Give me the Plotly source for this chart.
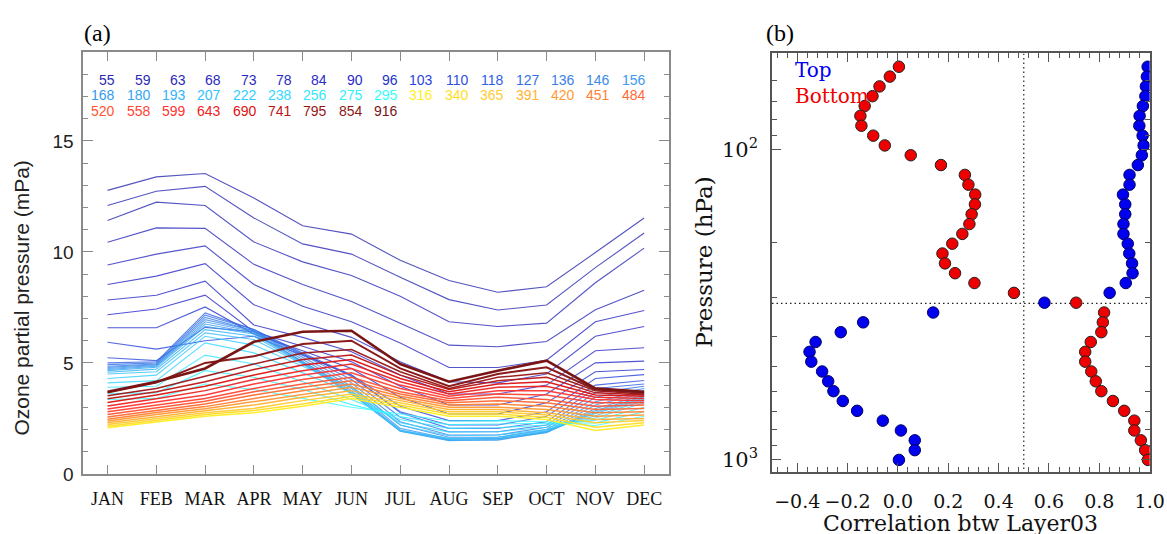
import math
import plotly.graph_objects as go

W, H = 1167, 534          # reference picture size (layout fractions are based on it)
FIG_W, FIG_H = 1184, 546  # canvas size requested from plotly

# ---------------- Panel (a) data ----------------
MONTHS = ["JAN", "FEB", "MAR", "APR", "MAY", "JUN", "JUL", "AUG", "SEP", "OCT", "NOV", "DEC"]

LEVELS_HPA = [55, 59, 63, 68, 73, 78, 84, 90, 96, 103, 110, 118, 127, 136, 146, 156,
              168, 180, 193, 207, 222, 238, 256, 275, 295, 316, 340, 365, 391, 420, 451, 484,
              520, 558, 599, 643, 690, 741, 795, 854, 916]

LEVEL_COLORS = ["#2b2bb0", "#2b2bb4", "#2b2bb8", "#2b2bbc", "#2b2bc0", "#2b2bc4", "#2b2bc8", "#2b2bcc",
                "#2233cc", "#2a44dd", "#2f50e0", "#3060e6", "#3370e8", "#3a7fe8", "#3d8ce8", "#3d99f0",
                "#3399ee", "#33a5f2", "#33b2f7", "#33bffa", "#33ccff", "#33d9ff", "#33e6ff", "#33eeff",
                "#33ffff", "#ffee22", "#ffdd22", "#ffcc33", "#ffb233", "#ff9933", "#ff8033", "#ff6a33",
                "#ff5533", "#ff4433", "#ff3333", "#ee2222", "#dd1111", "#bb1515", "#991515", "#8b1a1a",
                "#7a1515"]

p055 = [12.77, 13.38, 13.53, 12.43, 11.18, 10.80, 9.62, 8.71, 8.18, 8.43, 9.97, 11.53]
p059 = [12.09, 12.73, 12.95, 11.53, 10.36, 9.90, 8.86, 7.85, 7.38, 7.61, 9.29, 10.85]
p063 = [11.41, 12.24, 12.09, 10.45, 9.55, 8.94, 8.00, 6.85, 6.64, 6.79, 8.61, 10.17]
p068 = [10.43, 11.08, 11.06, 9.44, 8.53, 7.77, 6.79, 5.80, 5.73, 5.96, 7.39, 8.27]
p073 = [9.41, 9.90, 10.27, 8.53, 7.55, 6.85, 5.90, 4.79, 4.79, 5.12, 6.85, 7.36]
p078 = [8.53, 8.91, 9.47, 7.62, 6.80, 6.15, 5.05, 4.15, 4.10, 4.50, 6.20, 6.64]
p084 = [7.83, 8.05, 8.68, 6.71, 6.15, 5.50, 4.45, 3.60, 3.60, 4.00, 5.55, 5.68]
p090 = [7.17, 7.43, 8.05, 6.40, 5.75, 5.05, 3.95, 3.10, 3.10, 3.60, 5.00, 5.08]
p096 = [6.58, 6.58, 7.52, 6.30, 5.55, 4.75, 3.45, 2.70, 2.70, 3.20, 4.60, 4.70]
p103 = [5.93, 5.62, 6.00, 6.20, 5.35, 4.45, 3.05, 2.40, 2.40, 2.80, 4.30, 4.47]
p110 = [5.23, 5.10, 6.60, 6.40, 5.40, 4.40, 2.80, 2.20, 2.20, 2.60, 4.00, 4.21]
p118 = [5.00, 5.05, 7.25, 6.50, 5.45, 4.45, 2.75, 2.05, 2.05, 2.35, 3.85, 4.05]
p127 = [4.92, 5.00, 7.15, 6.50, 5.35, 4.25, 2.55, 1.90, 1.90, 2.20, 3.65, 3.95]
p136 = [4.85, 4.95, 7.05, 6.45, 5.25, 4.10, 2.35, 1.75, 1.75, 2.10, 3.45, 3.85]
p146 = [4.80, 4.92, 6.95, 6.45, 5.15, 3.95, 2.20, 1.65, 1.65, 2.00, 3.25, 3.75]
p156 = [4.75, 4.88, 6.85, 6.40, 5.05, 3.85, 2.05, 1.58, 1.58, 1.92, 3.10, 3.65]
p168 = [4.70, 4.85, 6.75, 6.35, 5.05, 3.75, 1.98, 1.52, 1.52, 1.88, 2.95, 3.55]
p180 = [4.65, 4.80, 6.65, 6.30, 5.00, 3.68, 1.92, 1.50, 1.55, 1.86, 2.85, 3.48]
p193 = [4.58, 4.72, 6.50, 6.20, 4.98, 3.62, 1.92, 1.55, 1.60, 1.90, 2.78, 3.42]
p207 = [4.50, 4.60, 6.35, 6.05, 4.95, 3.60, 1.95, 1.60, 1.65, 1.95, 2.72, 3.36]
p222 = [4.30, 4.45, 6.20, 5.80, 4.85, 3.90, 2.20, 1.72, 1.75, 2.00, 2.62, 3.30]
p238 = [4.10, 4.20, 5.90, 5.45, 4.55, 3.65, 2.30, 1.88, 1.90, 2.10, 2.52, 3.20]
p256 = [3.90, 3.95, 5.35, 4.95, 4.15, 3.35, 2.45, 2.05, 2.08, 2.20, 2.42, 3.00]
p275 = [3.62, 3.65, 4.65, 4.35, 3.80, 3.12, 2.58, 2.22, 2.25, 2.28, 2.30, 2.80]
p295 = [3.35, 3.40, 4.05, 3.80, 3.40, 3.00, 2.70, 2.38, 2.40, 2.35, 2.18, 2.60]
p316 = [2.08, 2.33, 2.60, 2.75, 3.05, 3.40, 3.00, 2.60, 2.60, 2.45, 1.95, 2.20]
p340 = [2.15, 2.41, 2.67, 2.85, 3.15, 3.50, 3.10, 2.70, 2.70, 2.55, 2.10, 2.30]
p365 = [2.22, 2.50, 2.75, 2.95, 3.30, 3.60, 3.20, 2.80, 2.80, 2.65, 2.30, 2.40]
p391 = [2.30, 2.58, 2.84, 3.10, 3.45, 3.75, 3.30, 2.90, 2.90, 2.75, 2.45, 2.50]
p420 = [2.38, 2.68, 2.93, 3.25, 3.60, 3.90, 3.40, 3.00, 3.00, 2.90, 2.60, 2.65]
p451 = [2.46, 2.77, 3.03, 3.40, 3.75, 4.05, 3.50, 3.10, 3.15, 3.05, 2.75, 2.80]
p484 = [2.56, 2.87, 3.15, 3.55, 3.90, 4.20, 3.60, 3.20, 3.30, 3.20, 2.90, 2.95]
p520 = [2.68, 2.98, 3.27, 3.70, 4.05, 4.35, 3.70, 3.30, 3.45, 3.35, 3.05, 3.10]
p558 = [2.80, 3.10, 3.40, 3.85, 4.25, 4.55, 3.85, 3.40, 3.60, 3.55, 3.20, 3.20]
p599 = [2.92, 3.22, 3.55, 4.05, 4.45, 4.75, 4.00, 3.50, 3.75, 3.75, 3.35, 3.30]
p643 = [3.06, 3.38, 3.75, 4.25, 4.65, 4.95, 4.15, 3.60, 3.90, 3.95, 3.45, 3.40]
p690 = [3.22, 3.55, 3.95, 4.45, 4.90, 5.15, 4.30, 3.70, 4.05, 4.15, 3.55, 3.50]
p741 = [3.38, 3.70, 4.15, 4.70, 5.15, 5.35, 4.45, 3.80, 4.20, 4.35, 3.65, 3.55]
p795 = [3.52, 3.85, 4.40, 4.95, 5.45, 5.60, 4.60, 3.85, 4.35, 4.55, 3.75, 3.60]
p854 = [3.66, 4.12, 5.00, 5.30, 5.85, 6.00, 4.75, 3.95, 4.50, 4.80, 3.80, 3.65]
p916 = [3.70, 4.15, 4.75, 5.95, 6.40, 6.45, 4.95, 4.15, 4.65, 5.10, 3.85, 3.70]

SERIES = [p055, p059, p063, p068, p073, p078, p084, p090, p096, p103, p110, p118, p127, p136,
          p146, p156, p168, p180, p193, p207, p222, p238, p256, p275, p295, p316, p340, p365,
          p391, p420, p451, p484, p520, p558, p599, p643, p690, p741, p795, p854, p916]

# ---------------- Panel (b) data ----------------
PRESSURE_B = [54.1, 58.2, 62.6, 67.3, 72.4, 77.9, 83.8, 90.2, 97.0, 104.3, 112.2, 120.7, 129.8,
              139.7, 150.2, 161.6, 173.8, 187.0, 201.1, 216.3, 232.7, 250.3, 269.2, 289.6, 311.5,
              335.1, 360.4, 387.7, 417.0, 448.6, 482.5, 519.0, 558.3, 600.5, 646.0, 694.8, 747.4,
              804.0, 864.8, 930.2, 1000.0]
CORR_TOP = [0.992, 0.989, 0.985, 0.983, 0.973, 0.960, 0.959, 0.972, 0.976, 0.969, 0.953, 0.920,
            0.920, 0.894, 0.903, 0.903, 0.896, 0.896, 0.913, 0.919, 0.930, 0.932, 0.905, 0.841,
            0.582, 0.140, -0.138, -0.227, -0.327, -0.351, -0.344, -0.301, -0.277, -0.256, -0.219,
            -0.162, -0.060, 0.012, 0.067, 0.067, 0.004]
CORR_BOTTOM = [0.004, -0.032, -0.073, -0.101, -0.132, -0.149, -0.145, -0.098, -0.052, 0.051,
               0.171, 0.266, 0.280, 0.307, 0.306, 0.293, 0.284, 0.256, 0.216, 0.177, 0.187,
               0.227, 0.304, 0.461, 0.708, 0.819, 0.814, 0.808, 0.766, 0.744, 0.744, 0.768,
               0.786, 0.808, 0.854, 0.899, 0.939, 0.939, 0.965, 0.982, 0.993]
CORR_THRESHOLD = 0.5
DIVIDE_P = 313.0
X_RANGE_B = [-0.5, 1.0]
P_RANGE_B = [49.0, 1093.0]

fig = go.Figure()

for lev, vals, col in zip(LEVELS_HPA, SERIES, LEVEL_COLORS):
    if lev >= 916:
        w, op = 2.6, 1.0
    elif lev >= 854:
        w, op = 2.0, 1.0
    elif lev >= 316:
        w, op = 1.5, 0.95
    else:
        w, op = 1.1, 0.8
    fig.add_trace(go.Scatter(x=MONTHS, y=vals, mode="lines", line=dict(color=col, width=w),
                             opacity=op, xaxis="x", yaxis="y", showlegend=False, hoverinfo="skip"))

# dotted reference lines in (b)
fig.add_trace(go.Scatter(x=[CORR_THRESHOLD, CORR_THRESHOLD], y=P_RANGE_B, mode="lines",
                         line=dict(color="#222", width=1.2, dash="1.5px,3px"),
                         xaxis="x2", yaxis="y2", showlegend=False, hoverinfo="skip"))
fig.add_trace(go.Scatter(x=X_RANGE_B, y=[DIVIDE_P, DIVIDE_P], mode="lines",
                         line=dict(color="#222", width=1.2, dash="1.5px,3px"),
                         xaxis="x2", yaxis="y2", showlegend=False, hoverinfo="skip"))

fig.add_trace(go.Scatter(x=CORR_BOTTOM, y=PRESSURE_B, mode="markers", name="Bottom",
                         marker=dict(color="#ee0000", size=11.5, line=dict(color="#222", width=1)),
                         xaxis="x2", yaxis="y2", showlegend=False))
fig.add_trace(go.Scatter(x=CORR_TOP, y=PRESSURE_B, mode="markers", name="Top",
                         marker=dict(color="#0000ee", size=11.5, line=dict(color="#000066", width=1)),
                         xaxis="x2", yaxis="y2", showlegend=False))

axA_col = "#8a8a8a"
axB_col = "#555555"

fig.update_layout(
    width=FIG_W, height=FIG_H, margin=dict(l=0, r=0, t=0, b=0), autosize=False,
    paper_bgcolor="white", plot_bgcolor="white",
    xaxis=dict(domain=[83 / W, 667.4 / W], anchor="y", type="category", range=[-0.5, 11.5],
               ticks="inside", ticklen=9, tickcolor=axA_col, showline=True, linecolor=axA_col,
               linewidth=1.5, mirror="ticks", showgrid=False, zeroline=False, tickangle=0,
               tickfont=dict(family="Liberation Serif", size=18, color="#111"),
               ticklabelstandoff=8),
    yaxis=dict(domain=[1 - 473 / H, 1 - 52 / H], anchor="x", range=[0, 19],
               tickvals=[0, 5, 10, 15], ticks="inside", ticklen=10, tickcolor=axA_col,
               minor=dict(dtick=1, ticks="inside", ticklen=5, tickcolor=axA_col),
               showline=True, linecolor=axA_col, linewidth=1.5, mirror="ticks",
               showgrid=False, zeroline=False,
               tickfont=dict(family="Liberation Sans", size=19, color="#222"),
               ticklabelstandoff=4),
    xaxis2=dict(domain=[770.7 / W, 1147.7 / W], anchor="y2", range=X_RANGE_B,
                tick0=-0.4, dtick=0.2, tickformat=".1f", ticks="inside", ticklen=9,
                tickcolor=axB_col, tickangle=0,
                minor=dict(tick0=-0.4, dtick=0.04, ticks="inside", ticklen=5, tickcolor=axB_col),
                showline=True, linecolor=axB_col, linewidth=1.5, mirror="ticks",
                showgrid=False, zeroline=False,
                tickfont=dict(family="DejaVu Serif", size=19, color="#111"),
                ticklabelstandoff=12),
    yaxis2=dict(domain=[1 - 471 / H, 1 - 53.3 / H], anchor="x2", type="log",
                range=[math.log10(P_RANGE_B[1]), math.log10(P_RANGE_B[0])],
                tickvals=[100, 1000], ticktext=["10<sup>2</sup>", "10<sup>3</sup>"],
                ticks="inside", ticklen=9, tickcolor=axB_col,
                minor=dict(tickvals=[60, 70, 80, 90, 200, 300, 400, 500, 600, 700, 800, 900],
                           ticks="inside", ticklen=5, tickcolor=axB_col),
                showline=True, linecolor=axB_col, linewidth=1.5, mirror="ticks",
                showgrid=False, zeroline=False,
                tickfont=dict(family="DejaVu Serif", size=21, color="#111"),
                ticklabelstandoff=8),
)

ann = []
# level labels (right-aligned columns, 16 per row)
for i, (lev, col) in enumerate(zip(LEVELS_HPA, LEVEL_COLORS)):
    row, c = divmod(i, 16)
    ann.append(dict(x=(116 + 35.3 * c) / W, y=1 - (80 + 15.2 * row) / H, xref="paper", yref="paper",
                    text=str(lev), showarrow=False, xanchor="right", yanchor="middle",
                    borderpad=0, font=dict(family="Liberation Sans", size=14, color=col)))

ann += [
    dict(x=97 / W, y=1 - 33 / H, text="(a)", font=dict(family="Liberation Serif", size=24, color="black")),
    dict(x=779 / W, y=1 - 33 / H, text="(b)", font=dict(family="Liberation Serif", size=24, color="black")),
    dict(x=22 / W, y=1 - 298 / H, text="Ozone partial pressure (mPa)", textangle=-90,
         font=dict(family="Liberation Sans", size=21, color="#222")),
    dict(x=703 / W, y=1 - 262 / H, text="Pressure (hPa)", textangle=-90,
         font=dict(family="DejaVu Serif", size=23, color="#111")),
    dict(x=959 / W, y=1 - 523 / H, text="Correlation btw Layer03",
         font=dict(family="DejaVu Serif", size=22, color="#111")),
]
for a in ann[-5:]:
    a.update(xref="paper", yref="paper", showarrow=False, xanchor="center", yanchor="middle")

# Top / Bottom key as one two-line text
ann.append(dict(x=793 / W, y=1 - 83 / H, xref="paper", yref="paper", showarrow=False,
                xanchor="left", yanchor="middle", align="left", borderpad=0,
                text="<span style='color:#0000ee'>Top</span><br><span style='color:#ee0000'>Bottom</span>",
                font=dict(family="DejaVu Serif", size=20, color="#0000ee")))
fig.update_layout(annotations=ann)

POST = ("var de=document.documentElement, b=document.body;"
        "de.style.margin='0';de.style.padding='0';"
        "b.style.margin='0';b.style.padding='0';")

fig.write_html("out.html", config={"displayModeBar": False, "responsive": False},
               post_script=POST)
